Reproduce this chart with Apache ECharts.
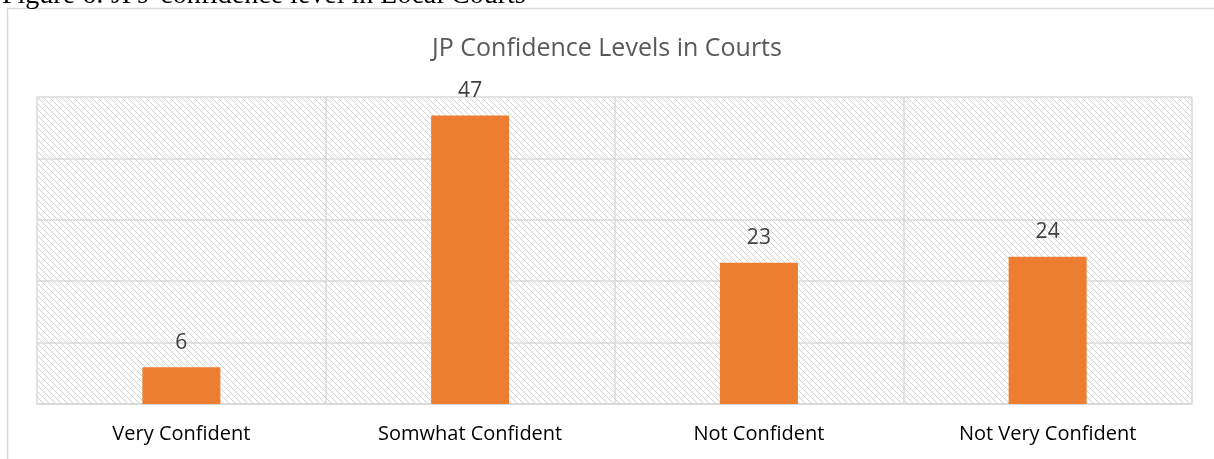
<!DOCTYPE html>
<html>
<head>
<meta charset="utf-8">
<script src="https://cdn.jsdelivr.net/npm/echarts@6/dist/echarts.min.js"></script>
<style>
  html, body { margin: 0; padding: 0; background: #fff; }
  #chart { width: 1214px; height: 459px; }
</style>
</head>
<body>
<div id="chart"></div>
<script>
(function () {
var categories = ['Very Confident', 'Somwhat Confident', 'Not Confident', 'Not Very Confident'];
var values = [6, 47, 23, 24];

// diagonal hatch tile for the plot background
var tile = document.createElement('canvas');
tile.width = 6;
tile.height = 6;
var ctx = tile.getContext('2d');
ctx.fillStyle = '#fff';
ctx.fillRect(0, 0, 6, 6);
ctx.strokeStyle = '#d0d0d0';
ctx.lineWidth = 1;
ctx.beginPath();
ctx.moveTo(-1, -1); ctx.lineTo(7, 7);
ctx.moveTo(-1, 5); ctx.lineTo(1, 7);
ctx.moveTo(5, -1); ctx.lineTo(7, 1);
ctx.stroke();

var myChart = echarts.init(document.getElementById('chart'));

var option = {
  animation: false,
  title: {
    text: 'JP Confidence Levels in Courts',
    left: 'center',
    top: 31,
    textStyle: {
      color: '#595959',
      fontSize: 25,
      fontWeight: 'normal',
      fontFamily: 'Open Sans'
    }
  },
  graphic: [
    {
      type: 'rect',
      shape: { x: 7.5, y: 8.5, width: 1230, height: 470 },
      style: { fill: null, stroke: '#d9d9d9', lineWidth: 1.5 }
    },
    {
      type: 'text',
      left: 2,
      top: -18,
      style: {
        text: "Figure 6: JPs' confidence level in Local Courts",
        font: '28px "Liberation Serif"',
        fill: '#000'
      }
    }
  ],
  grid: {
    left: 37,
    right: 22,
    top: 97,
    bottom: 55,
    show: true,
    borderWidth: 0,
    backgroundColor: { image: tile, repeat: 'repeat' }
  },
  xAxis: {
    type: 'category',
    data: categories,
    axisLine: { lineStyle: { color: '#d9d9d9', width: 1.5 } },
    axisTick: { show: false },
    axisLabel: {
      color: '#000',
      fontSize: 20,
      fontFamily: 'Open Sans',
      margin: 20
    },
    splitLine: { show: true, lineStyle: { color: '#d9d9d9', width: 1.5 } }
  },
  yAxis: {
    type: 'value',
    min: 0,
    max: 50,
    interval: 10,
    axisLabel: { show: false },
    axisLine: { show: false },
    axisTick: { show: false },
    splitLine: { lineStyle: { color: '#d9d9d9', width: 1.5 } }
  },
  series: [{
    type: 'bar',
    data: values,
    barWidth: 78,
    itemStyle: { color: '#ed7d31' },
    label: {
      show: true,
      position: 'top',
      distance: 14,
      color: '#404040',
      fontSize: 21,
      fontFamily: 'Open Sans'
    }
  }]
};

myChart.setOption(option);

window.addEventListener('resize', function () {
  myChart.resize();
});
})();
</script>
</body>
</html>
